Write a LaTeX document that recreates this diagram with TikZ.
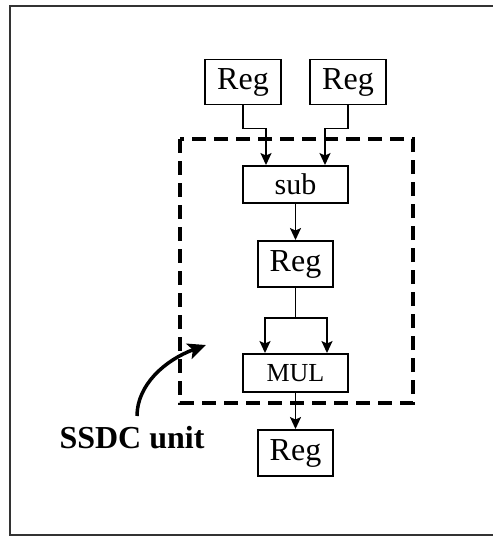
\documentclass[tikz,border=0pt]{standalone}
\usepackage{fontspec}
\setmainfont{Liberation Serif}
\usetikzlibrary{arrows.meta,calc}
\begin{document}
\begin{tikzpicture}[x=1pt,y=-1pt,
  blk/.style={draw,line width=1.9pt,inner sep=0pt,anchor=center},
  regbox/.style={blk,minimum width=76pt,minimum height=45pt,font=\fontsize{32}{34}\selectfont},
  opbox/.style={blk,minimum width=105pt,minimum height=37pt},
  wire/.style={line width=1.8pt},
  arr/.style={wire,-{Stealth[length=12pt,width=11pt,inset=2.5pt]}}]
  \useasboundingbox (0,0) rectangle (493,536);
  % outer frame (its right side runs past the page edge)
  \draw[line width=2pt,draw=black!80] (500,6) -- (10,6) -- (10,535) -- (500,535);

  % registers and operators
  \node[regbox] (r1) at (243,82) {Reg};
  \node[regbox] (r2) at (348,82) {Reg};
  \node[opbox,font=\fontsize{30}{32}\selectfont] (sub) at (295.5,184.5) {sub};
  \node[regbox,minimum width=75pt,minimum height=46pt] (rm) at (295.5,264) {Reg};
  \node[opbox,minimum height=38pt,font=\fontsize{26}{28}\selectfont] (mul) at (295.5,373) {MUL};
  \node[regbox,minimum width=75pt,minimum height=46pt] (rb) at (295.5,453) {Reg};

  % dashed unit boundary
  \draw[line width=4pt,dash pattern=on 14pt off 8pt] (180,139) rectangle (413,403);

  % inputs to sub
  \draw[arr] (r1.south) -- ++(0,23) -| ($(sub.north)+(-29.5,0)$);
  \draw[arr] (r2.south) -- ++(0,23) -| ($(sub.north)+(29.5,0)$);
  % sub to register
  \draw[arr] (sub.south) -- (rm.north);
  % register fans out to both MUL inputs
  \coordinate (split) at ($(rm.south)+(0,30)$);
  \draw[wire] (rm.south) -- (split);
  \draw[arr] (split) -| ($(mul.north)+(-30.5,0)$);
  \draw[arr] (split) -| ($(mul.north)+(31.5,0)$);
  % MUL to output register
  \draw[arr] (mul.south) -- (rb.north);

  % label with pointer
  \node[font=\bfseries\fontsize{32}{34}\selectfont,anchor=base] (lbl) at (132,448) {SSDC unit};
  \coordinate (tip) at (206,345);
  \draw[line width=3.5pt,-{Stealth[length=18pt,width=16pt,inset=4pt]}]
    (137,416) .. controls (137,385) and (165,360) .. (tip);
\end{tikzpicture}
\end{document}
